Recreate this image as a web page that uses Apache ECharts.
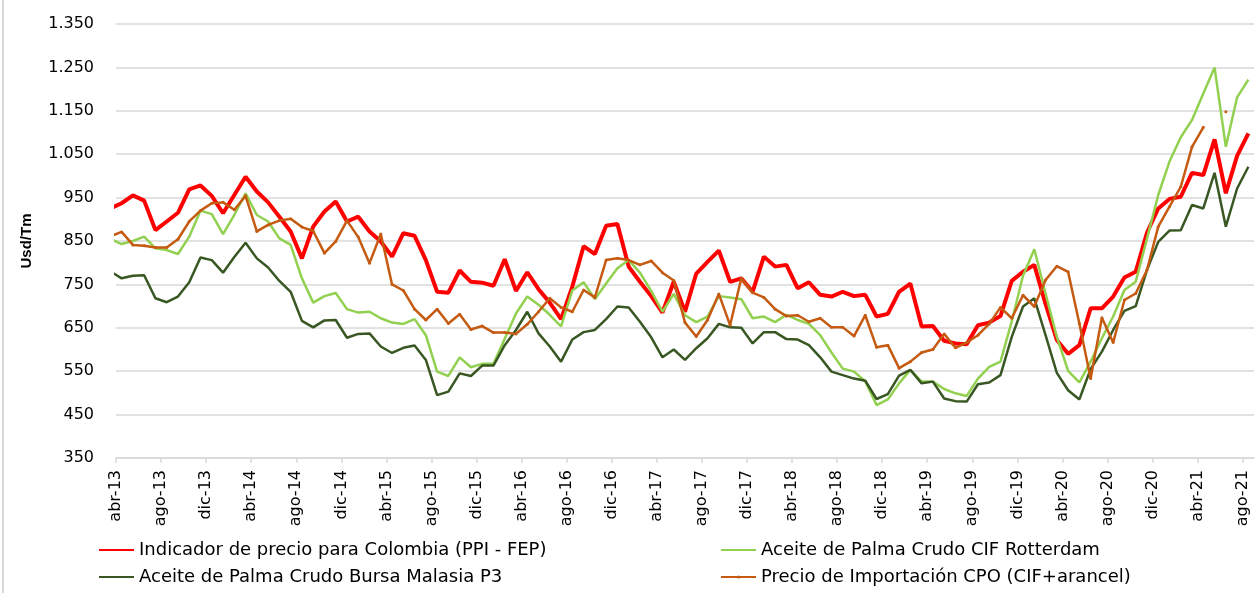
<!DOCTYPE html>
<html><head><meta charset="utf-8">
<script src="https://cdn.jsdelivr.net/npm/echarts@6/dist/echarts.min.js"></script>
<style>html,body{margin:0;padding:0;background:#fff}#c{width:1258px;height:593px}</style>
</head><body><div id="c"></div>
<script>
// Monthly categories (mar-13 is only partly visible: the axis starts at abr-13)
const months = [
 'mar-13','abr-13','may-13','jun-13','jul-13','ago-13','sep-13','oct-13','nov-13','dic-13',
 'ene-14','feb-14','mar-14','abr-14','may-14','jun-14','jul-14','ago-14','sep-14','oct-14','nov-14','dic-14',
 'ene-15','feb-15','mar-15','abr-15','may-15','jun-15','jul-15','ago-15','sep-15','oct-15','nov-15','dic-15',
 'ene-16','feb-16','mar-16','abr-16','may-16','jun-16','jul-16','ago-16','sep-16','oct-16','nov-16','dic-16',
 'ene-17','feb-17','mar-17','abr-17','may-17','jun-17','jul-17','ago-17','sep-17','oct-17','nov-17','dic-17',
 'ene-18','feb-18','mar-18','abr-18','may-18','jun-18','jul-18','ago-18','sep-18','oct-18','nov-18','dic-18',
 'ene-19','feb-19','mar-19','abr-19','may-19','jun-19','jul-19','ago-19','sep-19','oct-19','nov-19','dic-19',
 'ene-20','feb-20','mar-20','abr-20','may-20','jun-20','jul-20','ago-20','sep-20','oct-20','nov-20','dic-20',
 'ene-21','feb-21','mar-21','abr-21','may-21','jun-21','jul-21','ago-21'
];
const tickLabels = ['abr-13','ago-13','dic-13','abr-14','ago-14','dic-14','abr-15','ago-15','dic-15',
 'abr-16','ago-16','dic-16','abr-17','ago-17','dic-17','abr-18','ago-18','dic-18','abr-19','ago-19','dic-19',
 'abr-20','ago-20','dic-20','abr-21','ago-21'];
const yTickLabels = ['350','450','550','650','750','850','950','1.050','1.150','1.250','1.350'];

const names = [
 'Indicador de precio para Colombia (PPI - FEP)',
 'Aceite de Palma Crudo CIF Rotterdam',
 'Aceite de Palma Crudo Bursa Malasia P3',
 'Precio de Importación CPO (CIF+arancel)'
];

const ppiColombia = [925,
 937,955,943,875,895,915,969,978,954,914,956,998,964,939,906,872,810,883,918,941,895,906,872,849,814,
 868,862,806,733,731,782,756,754,747,808,735,778,739,708,670,745,838,820,885,889,791,756,723,685,756,
 687,775,802,828,756,764,733,814,791,795,741,755,726,722,733,723,726,676,682,733,752,653,654,620,614,
 612,656,662,677,758,779,795,705,622,590,610,695,695,722,766,779,869,925,947,952,1007,1002,1084,960,1046,1098];

const cifRotterdam = [855,
 843,850,860,833,829,820,860,920,912,866,910,960,910,895,856,841,764,708,723,730,693,685,687,672,662,
 659,670,633,549,539,582,559,567,567,625,683,722,703,680,653,736,755,716,752,787,806,777,735,687,728,
 679,663,676,723,720,716,672,676,663,680,668,659,633,593,556,549,527,472,485,522,553,526,526,509,499,
 493,533,560,572,665,770,831,729,629,551,524,572,626,676,737,756,855,956,1033,1089,1129,1190,1250,1067,1181,1222];

const bursaMalasia = [780,
 764,770,771,718,709,722,755,812,806,777,813,846,810,789,758,733,666,651,667,668,627,636,637,607,592,
 604,609,576,495,503,545,539,563,563,610,645,687,637,607,572,623,640,645,670,699,697,664,628,582,600,
 576,603,626,659,651,650,614,640,640,624,623,610,582,549,541,533,528,486,497,540,553,522,526,487,481,
 480,520,524,541,629,699,718,633,546,506,485,555,595,645,689,700,783,848,874,875,933,925,1007,883,971,1021];

const importCPO = [861,
 871,841,839,835,835,854,895,920,937,939,922,954,872,887,897,901,882,873,822,849,897,859,799,866,750,
 736,693,668,693,660,681,646,654,639,639,636,658,687,718,697,687,737,720,806,810,806,795,804,777,759,
 662,630,668,728,656,764,731,720,693,677,679,664,672,651,651,631,679,605,610,557,572,593,600,636,604,
 616,633,659,697,672,725,699,760,792,779,660,533,673,616,714,729,783,883,929,975,1067,1112,null,1148,null,null];

const colors = ['#FF0000', '#92D050', '#385723', '#C55A11'];
const widths = [4, 2.5, 2.5, 2.5];

// each month sits in the middle of its band on the time axis (band k spans k..k+1, mar-13 = -1..0)
function toPoints(arr) { return arr.map((v, i) => [i - 0.5, v]); }

const tickValues = tickLabels.map((_, j) => j * 4);

const chart = echarts.init(document.getElementById('c'), null, {renderer: 'canvas'});
const seriesData = [ppiColombia, cifRotterdam, bursaMalasia, importCPO];

const legendPos = [[98, 541], [720, 541], [98, 568], [720, 568]];

chart.setOption({
  animation: false,
  backgroundColor: '#fff',
  grid: {left: 116, right: 4, top: 24, bottom: 135, containLabel: false},
  xAxis: {
    type: 'value', min: 0, max: months.length - 1, interval: 4,
    axisLine: {show: true, lineStyle: {color: '#D9D9D9', width: 1.5}},
    axisTick: {show: true, customValues: tickValues, length: 5, lineStyle: {color: '#D9D9D9', width: 1.5}},
    axisLabel: {
      customValues: tickValues, rotate: 90, margin: 12,
      formatter: v => tickLabels[Math.round(v / 4)] || '',
      fontFamily: 'DejaVu Sans', fontSize: 16, color: '#000'
    },
    splitLine: {show: false}
  },
  yAxis: {
    type: 'value', min: 350, max: 1350, interval: 100,
    name: 'Usd/Tm', nameLocation: 'middle', nameRotate: 90, nameGap: 82,
    nameTextStyle: {fontFamily: 'Liberation Sans', fontWeight: 'bold', fontSize: 15, color: '#000'},
    axisLine: {show: false}, axisTick: {show: false},
    axisLabel: {
      margin: 22, fontFamily: 'DejaVu Sans', fontSize: 16, color: '#000',
      formatter: v => yTickLabels[Math.round((v - 350) / 100)]
    },
    splitLine: {show: true, lineStyle: {color: '#D9D9D9', width: 1.5}}
  },
  legend: names.map((n, i) => ({
    data: [{name: n, itemStyle: {opacity: i === 3 ? 1 : 0}}],
    left: legendPos[i][0], top: legendPos[i][1], padding: 0,
    itemWidth: 35, itemHeight: 4, itemGap: 0,
    textStyle: {fontFamily: 'DejaVu Sans', fontSize: 18, color: '#000'},
    selectedMode: false
  })),
  graphic: [{
    type: 'line', shape: {x1: 3, y1: 0, x2: 3, y2: 593},
    style: {stroke: '#D9D9D9', lineWidth: 2}, silent: true
  }],
  series: seriesData.map((arr, i) => ({
    name: names[i], type: 'line', data: toPoints(arr),
    symbol: i === 3 ? 'circle' : 'none', symbolSize: 3, showSymbol: i === 3,
    itemStyle: {color: colors[i]},
    lineStyle: {color: colors[i], width: widths[i]},
    connectNulls: false, clip: true, z: 2 + i
  }))
});
</script></body></html>
